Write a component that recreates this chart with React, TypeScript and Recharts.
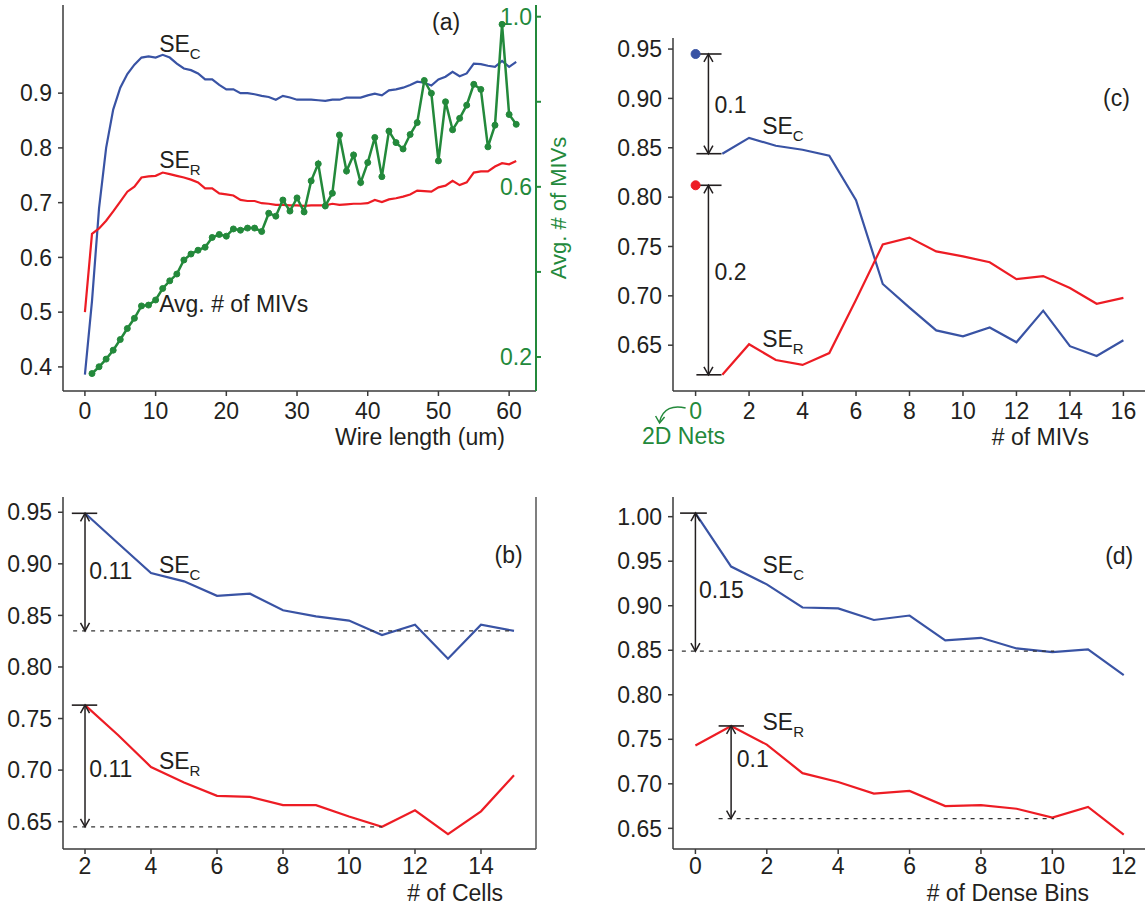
import React from 'react';
import { LineChart, Line, XAxis, YAxis, ReferenceLine, ReferenceDot } from 'recharts';

const FONT = '"Liberation Sans", Arial, Helvetica, sans-serif';
const BLUE = '#3953a4';
const RED = '#ed1c24';
const GREEN = '#23893b';
const INK = '#231f20';
const AXIS = '#3a3a3a';
const FS = 23;

// (a) SE vs wire length, with avg # of MIVs on the right axis
const wireLen = [0, 1, 2, 3, 4, 5, 6, 7, 8, 9, 10, 11, 12, 13, 14, 15, 16, 17, 18, 19, 20, 21, 22, 23, 24, 25, 26, 27, 28, 29, 30, 31, 32, 33, 34, 35, 36, 37, 38, 39, 40, 41, 42, 43, 44, 45, 46, 47, 48, 49, 50, 51, 52, 53, 54, 55, 56, 57, 58, 59, 60, 61];
const wireSEC = [0.386, 0.52, 0.69, 0.8, 0.87, 0.91, 0.935, 0.952, 0.965, 0.967, 0.965, 0.97, 0.965, 0.954, 0.945, 0.942, 0.936, 0.925, 0.925, 0.915, 0.907, 0.907, 0.9, 0.9, 0.898, 0.895, 0.893, 0.888, 0.895, 0.892, 0.888, 0.888, 0.888, 0.887, 0.886, 0.888, 0.888, 0.892, 0.892, 0.892, 0.896, 0.899, 0.896, 0.905, 0.907, 0.91, 0.915, 0.921, 0.919, 0.914, 0.925, 0.93, 0.939, 0.931, 0.936, 0.954, 0.953, 0.95, 0.948, 0.959, 0.948, 0.957];
const wireSER = [0.5, 0.643, 0.653, 0.667, 0.684, 0.702, 0.72, 0.729, 0.746, 0.748, 0.749, 0.755, 0.752, 0.749, 0.746, 0.742, 0.737, 0.726, 0.726, 0.717, 0.715, 0.713, 0.705, 0.703, 0.703, 0.699, 0.698, 0.696, 0.696, 0.695, 0.695, 0.694, 0.695, 0.695, 0.695, 0.698, 0.696, 0.697, 0.698, 0.698, 0.699, 0.705, 0.701, 0.706, 0.708, 0.711, 0.715, 0.722, 0.721, 0.72, 0.728, 0.731, 0.74, 0.732, 0.737, 0.755, 0.757, 0.757, 0.766, 0.772, 0.77, 0.776];
const wireMIV = [null, 0.161, 0.177, 0.195, 0.216, 0.241, 0.267, 0.291, 0.32, 0.322, 0.334, 0.361, 0.379, 0.395, 0.428, 0.442, 0.451, 0.458, 0.481, 0.488, 0.484, 0.501, 0.498, 0.503, 0.503, 0.495, 0.538, 0.531, 0.569, 0.543, 0.574, 0.541, 0.614, 0.654, 0.555, 0.585, 0.722, 0.637, 0.675, 0.61, 0.657, 0.716, 0.624, 0.731, 0.704, 0.689, 0.723, 0.751, 0.85, 0.82, 0.661, 0.8, 0.734, 0.761, 0.792, 0.841, 0.829, 0.694, 0.745, 0.982, 0.77, 0.747];
const wireTicks = [0, 10, 20, 30, 40, 50, 60];
const seTicksA = [0.4, 0.5, 0.6, 0.7, 0.8, 0.9];
const mivTicksA = [0.2, 0.4, 0.6, 0.8, 1.0];
const mivLabelled = [0.2, 0.6, 1.0];

// (b) SE vs # of cells
const cellsX = [2, 3, 4, 5, 6, 7, 8, 9, 10, 11, 12, 13, 14, 15];
const cellsSEC = [0.949, 0.92, 0.891, 0.883, 0.869, 0.871, 0.855, 0.849, 0.845, 0.831, 0.841, 0.808, 0.841, 0.835];
const cellsSER = [0.763, 0.734, 0.703, 0.688, 0.675, 0.674, 0.666, 0.666, 0.655, 0.645, 0.661, 0.638, 0.66, 0.695];
const cellsTicks = [2, 4, 6, 8, 10, 12, 14];
const seTicksB = [0.65, 0.7, 0.75, 0.8, 0.85, 0.9, 0.95];

// (c) SE vs # of MIVs (0 = 2D nets)
const mivX = [1, 2, 3, 4, 5, 6, 7, 8, 9, 10, 11, 12, 13, 14, 15, 16];
const mivSEC = [0.844, 0.86, 0.852, 0.848, 0.842, 0.797, 0.712, 0.688, 0.665, 0.659, 0.668, 0.653, 0.685, 0.649, 0.639, 0.655];
const mivSER = [0.62, 0.651, 0.635, 0.63, 0.642, 0.696, 0.752, 0.759, 0.745, 0.74, 0.734, 0.717, 0.72, 0.708, 0.692, 0.698];
const nets2D = { sec: 0.945, ser: 0.812 };
const mivTicks = [0, 2, 4, 6, 8, 10, 12, 14, 16];
const seTicksC = [0.65, 0.7, 0.75, 0.8, 0.85, 0.9, 0.95];

// (d) SE vs # of dense bins
const binsX = [0, 1, 2, 3, 4, 5, 6, 7, 8, 9, 10, 11, 12];
const binsSEC = [1.004, 0.944, 0.924, 0.898, 0.897, 0.884, 0.889, 0.861, 0.864, 0.852, 0.848, 0.851, 0.822];
const binsSER = [0.743, 0.765, 0.744, 0.712, 0.702, 0.689, 0.692, 0.675, 0.676, 0.672, 0.662, 0.674, 0.643];
const binsTicks = [0, 2, 4, 6, 8, 10, 12];
const seTicksD = [0.65, 0.7, 0.75, 0.8, 0.85, 0.9, 0.95, 1.0];

// annotations (data coords)
const textsA = [
  { x: 10.5, y: 0.975, se: 'C' },
  { x: 10.5, y: 0.7626, se: 'R' },
  { x: 10.5, y: 0.5007, t: 'Avg. # of MIVs' },
  { x: 49.1, y: 1.016, t: '(a)' },
];
const capsB = [{ x1: 1.6, x2: 2.37, y: 0.949 }, { x1: 1.6, x2: 2.37, y: 0.763 }];
const arrowsB = [{ x: 2, y1: 0.949, y2: 0.835 }, { x: 2, y1: 0.763, y2: 0.645 }];
const dashB = [{ x1: 1.64, x2: 15, y: 0.835 }, { x1: 1.64, x2: 11, y: 0.645 }];
const textsB = [
  { x: 2.13, y: 0.885, t: '0.11' },
  { x: 2.13, y: 0.6937, t: '0.11' },
  { x: 4.24, y: 0.8909, se: 'C' },
  { x: 4.24, y: 0.7008, se: 'R' },
  { x: 14.41, y: 0.9008, t: '(b)' },
];
const capsC = [
  { x1: 0.03, x2: 0.97, y: 0.945 },
  { x1: 0.03, x2: 0.97, y: 0.844 },
  { x1: 0.03, x2: 0.97, y: 0.812 },
  { x1: 0.03, x2: 0.97, y: 0.62 },
];
const arrowsC = [{ x: 0.48, y1: 0.945, y2: 0.844 }, { x: 0.48, y1: 0.812, y2: 0.62 }];
const textsC = [
  { x: 0.71, y: 0.8857, t: '0.1' },
  { x: 0.71, y: 0.716, t: '0.2' },
  { x: 2.49, y: 0.8638, se: 'C' },
  { x: 2.49, y: 0.6483, se: 'R' },
  { x: 15.24, y: 0.8925, t: '(c)' },
];
const capsD = [{ x1: -0.43, x2: 0.32, y: 1.004 }, { x1: 0.65, x2: 1.36, y: 0.765 }];
const arrowsD = [{ x: 0, y1: 1.004, y2: 0.849 }, { x: 1, y1: 0.765, y2: 0.661 }];
const dashD = [{ x1: -0.38, x2: 10.05, y: 0.849 }, { x1: 0.65, x2: 10.05, y: 0.661 }];
const textsD = [
  { x: 0.1, y: 0.9083, t: '0.15' },
  { x: 1.16, y: 0.7192, t: '0.1' },
  { x: 1.88, y: 0.9364, se: 'C' },
  { x: 1.88, y: 0.7604, se: 'R' },
  { x: 11.48, y: 0.9469, t: '(d)' },
];

const rowsA = wireLen.map((x, i) => ({ x, sec: wireSEC[i], ser: wireSER[i], miv: wireMIV[i] }));
const rowsB = cellsX.map((x, i) => ({ x, sec: cellsSEC[i], ser: cellsSER[i] }));
const rowsC = mivX.map((x, i) => ({ x, sec: mivSEC[i], ser: mivSER[i] }));
const rowsD = binsX.map((x, i) => ({ x, sec: binsSEC[i], ser: binsSER[i] }));

const tickStyle = { fill: INK, fontSize: FS, fontFamily: FONT };
const axisLine = { stroke: AXIS, strokeWidth: 1.5 };
const tickLine = { stroke: AXIS, strokeWidth: 1.5 };
const borderLine = { stroke: '#555', strokeWidth: 1.5 };

const arrowShape = (p: any) => {
  const { x1, y1, x2, y2 } = p;
  const len = Math.hypot(x2 - x1, y2 - y1) || 1;
  const ux = (x2 - x1) / len;
  const uy = (y2 - y1) / len;
  const h = 8;
  const w = 4.5;
  const head = (tx: number, ty: number, dx: number, dy: number) =>
    `M${tx - dx * h - dy * w},${ty - dy * h + dx * w} L${tx},${ty} L${tx - dx * h + dy * w},${ty - dy * h - dx * w}`;
  return (
    <g>
      <line x1={x1} y1={y1} x2={x2} y2={y2} stroke={INK} strokeWidth={1.5} />
      <path d={head(x1, y1, -ux, -uy)} fill="none" stroke={INK} strokeWidth={1.5} />
      <path d={head(x2, y2, ux, uy)} fill="none" stroke={INK} strokeWidth={1.5} />
    </g>
  );
};

const textShape = (item: any) => (p: any) => {
  if (item.se) {
    return (
      <text x={p.cx} y={p.cy} fill={INK} fontSize={FS} fontFamily={FONT}>
        <tspan>SE</tspan>
        <tspan fontSize={15} dy={7}>{item.se}</tspan>
      </text>
    );
  }
  return (
    <text x={p.cx} y={p.cy} fill={INK} fontSize={FS} fontFamily={FONT}>
      {item.t}
    </text>
  );
};

const axisTitle = (text: string, fromRight: number, below: number) => (props: any) => {
  const vb = props.viewBox || { x: 0, y: 0, width: 0 };
  return (
    <text x={vb.x + vb.width - fromRight} y={vb.y + below} textAnchor="end" fill={INK} fontSize={FS} fontFamily={FONT}>
      {text}
    </text>
  );
};

const mivAxisTick = (p: any) => {
  const v = Math.round(p.payload.value * 10) / 10;
  if (!mivLabelled.includes(v)) return <g />;
  return (
    <text x={p.x - 9} y={p.y} dy="0.355em" textAnchor="end" fill={GREEN} fontSize={FS} fontFamily={FONT}>
      {v.toFixed(1)}
    </text>
  );
};

const mivRightTitle = (props: any) => {
  const vb = props.viewBox || { x: 0, y: 0, width: 0, height: 0 };
  const cx = vb.x + 22;
  const cy = vb.y + vb.height / 2 + 10;
  return (
    <text x={cx} y={cy} transform={`rotate(-90, ${cx}, ${cy})`} textAnchor="middle" dominantBaseline="central" fill={GREEN} fontSize={22} fontFamily={FONT}>
      Avg. # of MIVs
    </text>
  );
};

const mivXTick = (p: any) => {
  const { x, y } = p;
  const v = p.payload.value;
  if (v === 0) {
    return (
      <g>
        <text x={x} y={y} dy="0.71em" textAnchor="middle" fill={GREEN} fontSize={FS} fontFamily={FONT}>0</text>
        <path d={`M${x - 10},${y + 5} C${x - 22},${y + 2} ${x - 33},${y + 5} ${x - 36},${y + 19}`} fill="none" stroke={GREEN} strokeWidth={1.5} />
        <path d={`M${x - 40},${y + 13} L${x - 36},${y + 20} L${x - 31},${y + 14}`} fill="none" stroke={GREEN} strokeWidth={1.5} />
        <text x={x - 12} y={y + 41} textAnchor="middle" fill={GREEN} fontSize={FS} fontFamily={FONT}>2D Nets</text>
      </g>
    );
  }
  return (
    <text x={x} y={y} dy="0.71em" textAnchor="middle" fill={INK} fontSize={FS} fontFamily={FONT}>{v}</text>
  );
};

const renderNotes = (texts: any[], caps: any[], arrows: any[], dashes: any[], xId: string, yId: string) => (
  <>
    {dashes.map((d, i) => (
      <ReferenceLine key={'d' + i} xAxisId={xId} yAxisId={yId} ifOverflow="visible"
        segment={[{ x: d.x1, y: d.y }, { x: d.x2, y: d.y }]} stroke="#333" strokeWidth={1.3} strokeDasharray="4 5" />
    ))}
    {caps.map((c, i) => (
      <ReferenceLine key={'c' + i} xAxisId={xId} yAxisId={yId} ifOverflow="visible"
        segment={[{ x: c.x1, y: c.y }, { x: c.x2, y: c.y }]} stroke={INK} strokeWidth={1.6} />
    ))}
    {arrows.map((a, i) => (
      <ReferenceLine key={'a' + i} xAxisId={xId} yAxisId={yId} ifOverflow="visible"
        segment={[{ x: a.x, y: a.y1 }, { x: a.x, y: a.y2 }]} shape={arrowShape} />
    ))}
    {texts.map((t, i) => (
      <ReferenceDot key={'t' + i} xAxisId={xId} yAxisId={yId} ifOverflow="visible" x={t.x} y={t.y} r={1} shape={textShape(t)} />
    ))}
  </>
);

const f2 = (v: number) => v.toFixed(2);
const f1 = (v: number) => v.toFixed(1);

function PanelA() {
  const dom: [number, number] = [-3.1, 63.8];
  return (
    <LineChart width={600} height={460} data={rowsA} margin={{ top: 5, right: 0, bottom: 0, left: 0 }} style={{ fontFamily: FONT }}>
      <XAxis xAxisId="b" dataKey="x" type="number" domain={dom} allowDataOverflow ticks={wireTicks} height={69}
        tickSize={5} tickMargin={7} tick={tickStyle} tickLine={tickLine} axisLine={axisLine}
        label={axisTitle('Wire length (um)', 31, 54)} />
      <XAxis xAxisId="t" orientation="top" dataKey="x" type="number" domain={dom} allowDataOverflow height={0}
        tick={false} tickLine={false} axisLine={borderLine} />
      <YAxis yAxisId="l" type="number" domain={[0.356, 1.061]} allowDataOverflow ticks={seTicksA} width={63}
        tickSize={5} tickMargin={6} tick={tickStyle} tickLine={tickLine} axisLine={axisLine} tickFormatter={f1} />
      <YAxis yAxisId="r" orientation="right" type="number" domain={[0.12, 1.0275]} allowDataOverflow ticks={mivTicksA} width={64}
        tickSize={5} tickMargin={0} tick={mivAxisTick} tickLine={{ stroke: GREEN, strokeWidth: 2 }}
        axisLine={{ stroke: GREEN, strokeWidth: 2 }} label={mivRightTitle} />
      <Line xAxisId="b" yAxisId="l" dataKey="sec" stroke={BLUE} strokeWidth={2.2} dot={false} isAnimationActive={false} />
      <Line xAxisId="b" yAxisId="l" dataKey="ser" stroke={RED} strokeWidth={2.2} dot={false} isAnimationActive={false} />
      <Line xAxisId="b" yAxisId="r" dataKey="miv" stroke={GREEN} strokeWidth={2.5}
        dot={{ r: 3, fill: GREEN, stroke: GREEN, strokeWidth: 1 }} isAnimationActive={false} />
      {renderNotes(textsA, [], [], [], 'b', 'l')}
    </LineChart>
  );
}

function PanelB() {
  const dom: [number, number] = [1.333, 15.667];
  const ydom: [number, number] = [0.6235, 0.9648];
  return (
    <LineChart width={600} height={445} data={rowsB} margin={{ top: 37, right: 0, bottom: 0, left: 0 }} style={{ fontFamily: FONT }}>
      <XAxis xAxisId="b" dataKey="x" type="number" domain={dom} allowDataOverflow ticks={cellsTicks} height={56}
        tickSize={5} tickMargin={4} tick={tickStyle} tickLine={tickLine} axisLine={axisLine}
        label={axisTitle('# of Cells', 33, 52)} />
      <XAxis xAxisId="t" orientation="top" dataKey="x" type="number" domain={dom} allowDataOverflow height={0}
        tick={false} tickLine={false} axisLine={borderLine} />
      <YAxis yAxisId="l" type="number" domain={ydom} allowDataOverflow ticks={seTicksB} width={63}
        tickSize={5} tickMargin={6} tick={tickStyle} tickLine={tickLine} axisLine={axisLine} tickFormatter={f2} />
      <YAxis yAxisId="r" orientation="right" type="number" domain={ydom} allowDataOverflow width={64}
        tick={false} tickLine={false} axisLine={borderLine} />
      <Line xAxisId="b" yAxisId="l" dataKey="sec" stroke={BLUE} strokeWidth={2.2} dot={false} isAnimationActive={false} />
      <Line xAxisId="b" yAxisId="l" dataKey="ser" stroke={RED} strokeWidth={2.2} dot={false} isAnimationActive={false} />
      {renderNotes(textsB, capsB, arrowsB, dashB, 'b', 'l')}
    </LineChart>
  );
}

function PanelC() {
  const dom: [number, number] = [-0.845, 16.92];
  return (
    <LineChart width={560} height={460} data={rowsC} margin={{ top: 38, right: 12, bottom: 0, left: 0 }} style={{ fontFamily: FONT }}>
      <XAxis xAxisId="b" dataKey="x" type="number" domain={dom} allowDataOverflow ticks={mivTicks} height={69}
        tickSize={5} tickMargin={7} tick={mivXTick} tickLine={tickLine} axisLine={axisLine}
        label={axisTitle('# of MIVs', 59, 54)} />
      <XAxis xAxisId="t" orientation="top" dataKey="x" type="number" domain={dom} allowDataOverflow height={0}
        tick={false} tickLine={false} axisLine={borderLine} />
      <YAxis yAxisId="l" type="number" domain={[0.6036, 0.9612]} allowDataOverflow ticks={seTicksC} width={73}
        tickSize={5} tickMargin={6} tick={tickStyle} tickLine={tickLine} axisLine={axisLine} tickFormatter={f2} />
      <Line xAxisId="b" yAxisId="l" dataKey="sec" stroke={BLUE} strokeWidth={2.2} dot={false} isAnimationActive={false} />
      <Line xAxisId="b" yAxisId="l" dataKey="ser" stroke={RED} strokeWidth={2.2} dot={false} isAnimationActive={false} />
      <ReferenceDot xAxisId="b" yAxisId="l" x={0} y={nets2D.sec} r={4.5} fill={BLUE} stroke={BLUE} ifOverflow="visible" />
      <ReferenceDot xAxisId="b" yAxisId="l" x={0} y={nets2D.ser} r={4.5} fill={RED} stroke={RED} ifOverflow="visible" />
      {renderNotes(textsC, capsC, arrowsC, [], 'b', 'l')}
    </LineChart>
  );
}

function PanelD() {
  const dom: [number, number] = [-0.628, 12.68];
  return (
    <LineChart width={560} height={445} data={rowsD} margin={{ top: 37, right: 12, bottom: 0, left: 0 }} style={{ fontFamily: FONT }}>
      <XAxis xAxisId="b" dataKey="x" type="number" domain={dom} allowDataOverflow ticks={binsTicks} height={56}
        tickSize={5} tickMargin={4} tick={tickStyle} tickLine={tickLine} axisLine={axisLine}
        label={axisTitle('# of Dense Bins', 59, 52)} />
      <XAxis xAxisId="t" orientation="top" dataKey="x" type="number" domain={dom} allowDataOverflow height={0}
        tick={false} tickLine={false} axisLine={borderLine} />
      <YAxis yAxisId="l" type="number" domain={[0.6268, 1.0221]} allowDataOverflow ticks={seTicksD} width={73}
        tickSize={5} tickMargin={6} tick={tickStyle} tickLine={tickLine} axisLine={axisLine} tickFormatter={f2} />
      <Line xAxisId="b" yAxisId="l" dataKey="sec" stroke={BLUE} strokeWidth={2.2} dot={false} isAnimationActive={false} />
      <Line xAxisId="b" yAxisId="l" dataKey="ser" stroke={RED} strokeWidth={2.2} dot={false} isAnimationActive={false} />
      {renderNotes(textsD, capsD, arrowsD, dashD, 'b', 'l')}
    </LineChart>
  );
}

export default function App() {
  return (
    <div style={{ position: 'absolute', left: 0, top: 0, width: 1145, height: 905, overflow: 'hidden', background: '#fff', fontFamily: FONT }}>
      <div style={{ position: 'absolute', left: 0, top: 0 }}><PanelA /></div>
      <div style={{ position: 'absolute', left: 600, top: 0 }}><PanelC /></div>
      <div style={{ position: 'absolute', left: 0, top: 460 }}><PanelB /></div>
      <div style={{ position: 'absolute', left: 600, top: 460 }}><PanelD /></div>
    </div>
  );
}
